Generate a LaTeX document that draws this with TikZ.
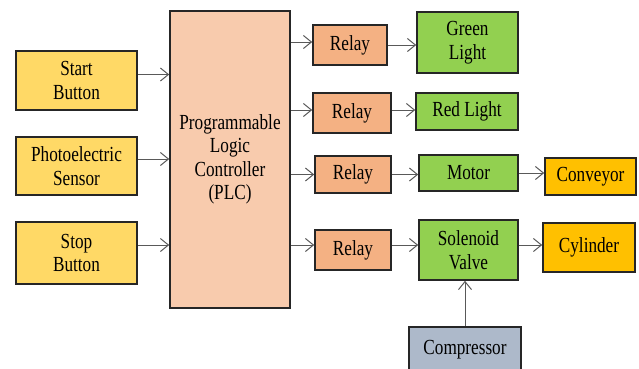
\documentclass[tikz,border=0pt]{standalone}
\usepackage{fontspec}
\setmainfont[FakeStretch=0.8]{Liberation Serif}
\usetikzlibrary{arrows.meta}
\definecolor{cyellow}{HTML}{FFD966}
\definecolor{cplc}{HTML}{F8CBAD}
\definecolor{crelay}{HTML}{F4B183}
\definecolor{cgreen}{HTML}{92D050}
\definecolor{corange}{HTML}{FFC000}
\definecolor{ccomp}{HTML}{ADB9CA}
\begin{document}
\begin{tikzpicture}[x=1pt,y=-1pt,
  box/.style={draw=black!85, line width=1.6pt, align=center, inner sep=0pt,
    text=black, font=\fontsize{21.5}{23.5}\selectfont},
  arr/.style={draw=black!65, line width=1pt, -{Straight Barb[length=8pt,width=13pt]}}]
\useasboundingbox (0,0) rectangle (639,368);
% inputs
\node[box, fill=cyellow, minimum width=121pt, minimum height=59pt] (start) at (76.5,80.5) {Start\\Button};
\node[box, fill=cyellow, minimum width=121pt, minimum height=58pt] (photo) at (76.5,166) {Photoelectric\\Sensor};
\node[box, fill=cyellow, minimum width=121pt, minimum height=62pt] (stop) at (76.5,253) {Stop\\Button};
% PLC
\node[box, fill=cplc, minimum width=120pt, minimum height=297pt] (plc) at (230,159.5) {Programmable\\Logic\\Controller\\(PLC)};
% relays
\node[box, fill=crelay, minimum width=74pt, minimum height=40pt] (r1) at (350,45) {Relay};
\node[box, fill=crelay, minimum width=78pt, minimum height=40pt] (r2) at (352,113) {Relay};
\node[box, fill=crelay, minimum width=76pt, minimum height=37pt] (r3) at (353,174.5) {Relay};
\node[box, fill=crelay, minimum width=76pt, minimum height=40pt] (r4) at (353,250) {Relay};
% outputs
\node[box, fill=cgreen, minimum width=101pt, minimum height=61pt] (green) at (467.5,42.5) {Green\\Light};
\node[box, fill=cgreen, minimum width=102pt, minimum height=37pt] (red) at (467,111.5) {Red Light};
\node[box, fill=cgreen, minimum width=99pt, minimum height=36pt] (motor) at (468.5,173) {Motor};
\node[box, fill=cgreen, minimum width=99pt, minimum height=60pt] (sol) at (468.5,250) {Solenoid\\Valve};
\node[box, fill=corange, minimum width=91pt, minimum height=37pt] (conv) at (590.5,176.5) {Conveyor};
\node[box, fill=corange, minimum width=92pt, minimum height=49pt] (cyl) at (589,247.5) {Cylinder};
\node[box, fill=ccomp, minimum width=112pt, minimum height=45pt] (comp) at (465,349.5) {Compressor};
% anchor points
\coordinate (a1) at ([yshift=6pt]start.east);
\coordinate (a2) at ([yshift=7pt]photo.east);
\coordinate (a3) at ([yshift=8pt]stop.east);
\coordinate (b1) at ([yshift=3pt]r1.west);
\coordinate (b2) at ([yshift=3pt]r2.west);
\coordinate (b4) at ([yshift=5pt]r4.west);
\coordinate (c2) at ([yshift=3pt]r2.east);
\coordinate (c4) at ([yshift=5pt]r4.east);
\coordinate (d4) at ([yshift=5pt]sol.east);
% connectors
\draw[arr] (a1) -- (plc.west |- a1);
\draw[arr] (a2) -- (plc.west |- a2);
\draw[arr] (a3) -- (plc.west |- a3);
\draw[arr] (plc.east |- b1) -- (b1);
\draw[arr] (plc.east |- b2) -- (b2);
\draw[arr] (plc.east |- r3.west) -- (r3.west);
\draw[arr] (plc.east |- b4) -- (b4);
\draw[arr] (r1.east) -- (green.west |- r1.east);
\draw[arr] (c2) -- (red.west |- c2);
\draw[arr] (r3.east) -- (motor.west |- r3.east);
\draw[arr] (motor.east) -- (conv.west |- motor.east);
\draw[arr] (c4) -- (sol.west |- c4);
\draw[arr] (d4) -- (cyl.west |- d4);
\draw[arr] (comp.north) -- (sol.south -| comp.north);
\end{tikzpicture}
\end{document}
